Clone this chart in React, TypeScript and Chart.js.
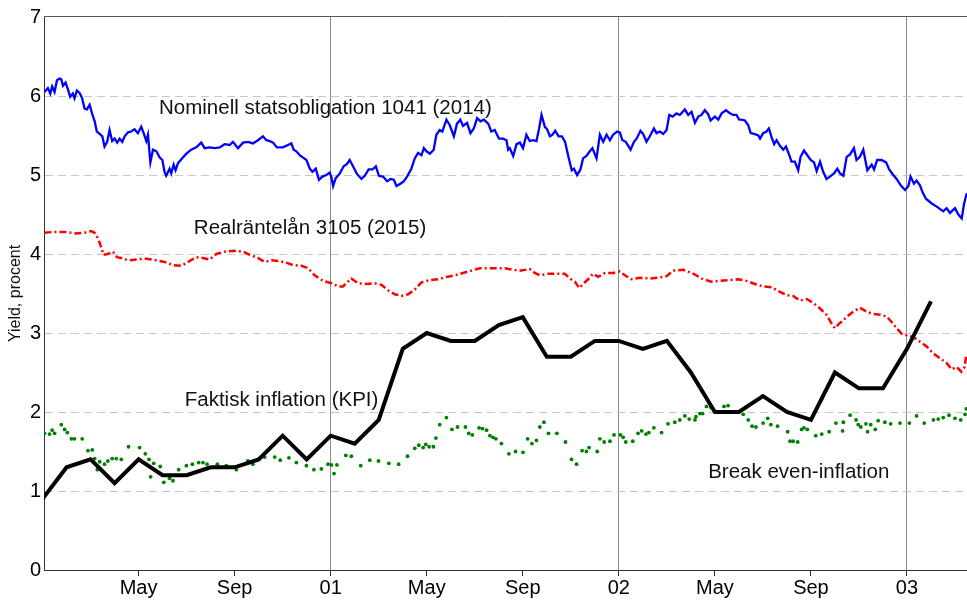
import React, { useEffect, useRef } from "react";
import { Chart, registerables } from "chart.js";

Chart.register(...registerables);

// x values are months since 1 Jan 2000
const xTickMonths = [4, 8, 12, 16, 20, 24, 28, 32, 36];
const xTickLabels = ["May", "Sep", "01", "May", "Sep", "02", "May", "Sep", "03"];
const yMin = 0;
const yMax = 7;

// Faktisk inflation (KPI), monthly from Jan 2000
const kpi: number[] = [
  0.9, 1.3, 1.4, 1.1, 1.4, 1.2, 1.2, 1.3, 1.3, 1.4, 1.7, 1.4,
  1.7, 1.6, 1.9, 2.8, 3.0, 2.9, 2.9, 3.1, 3.2, 2.7, 2.7, 2.9,
  2.9, 2.8, 2.9, 2.5, 2.0, 2.0, 2.2, 2.0, 1.9, 2.5, 2.3, 2.3,
  2.8, 3.4,
];

// Nominell statsobligation 1041 (2014): [month, yield]
const nominal: [number, number][] = [
  [0.08, 6.05], [0.22, 6.1], [0.32, 6.03], [0.4, 6.12], [0.5, 6.05], [0.6, 6.2], [0.71, 6.22], [0.78, 6.21],
  [0.85, 6.13], [0.96, 6.17], [1.06, 6.08], [1.15, 5.99], [1.26, 6.03], [1.33, 5.97], [1.43, 6.07], [1.54, 6.04],
  [1.65, 5.97], [1.75, 5.84], [1.85, 5.83], [1.96, 5.89], [2.06, 5.78], [2.17, 5.68], [2.26, 5.55], [2.38, 5.52],
  [2.49, 5.49], [2.58, 5.36], [2.69, 5.42], [2.79, 5.57], [2.9, 5.43], [3.0, 5.46], [3.11, 5.41], [3.21, 5.46],
  [3.32, 5.42], [3.42, 5.49], [3.56, 5.54], [3.69, 5.55], [3.83, 5.58], [3.97, 5.53], [4.11, 5.61], [4.21, 5.53],
  [4.32, 5.43], [4.39, 5.51], [4.49, 5.16], [4.6, 5.32], [4.74, 5.3], [4.88, 5.22], [4.99, 5.19], [5.08, 5.04],
  [5.15, 4.99], [5.29, 5.08], [5.36, 5.02], [5.46, 5.13], [5.54, 5.06], [5.64, 5.15], [5.78, 5.2], [5.99, 5.27],
  [6.19, 5.32], [6.4, 5.35], [6.61, 5.41], [6.75, 5.34], [6.96, 5.35], [7.17, 5.34], [7.38, 5.35], [7.58, 5.39],
  [7.79, 5.38], [7.93, 5.42], [8.14, 5.34], [8.35, 5.41], [8.56, 5.42], [8.76, 5.4], [8.97, 5.44], [9.18, 5.49],
  [9.32, 5.44], [9.46, 5.43], [9.6, 5.41], [9.76, 5.35],
  [9.81, 5.35], [10.01, 5.35], [10.22, 5.38], [10.36, 5.4], [10.46, 5.32], [10.57, 5.3], [10.71, 5.25], [10.85, 5.22],
  [10.99, 5.19], [11.13, 5.08], [11.24, 5.04], [11.38, 5.08], [11.51, 4.94], [11.65, 4.98], [11.82, 5.0], [11.96, 5.03],
  [12.03, 4.97], [12.1, 4.86], [12.21, 4.96], [12.38, 5.02], [12.54, 5.11], [12.68, 5.14], [12.79, 5.19], [12.93, 5.11],
  [13.1, 5.01], [13.28, 4.95], [13.42, 4.99], [13.58, 5.07], [13.74, 5.07], [13.88, 5.11], [14.01, 4.99], [14.18, 4.98],
  [14.35, 4.92], [14.49, 4.95], [14.63, 4.94], [14.74, 4.86], [14.9, 4.89], [15.04, 4.92], [15.18, 4.98], [15.36, 5.08],
  [15.5, 5.21], [15.64, 5.28], [15.78, 5.25], [15.88, 5.34], [15.99, 5.3], [16.13, 5.27], [16.29, 5.32], [16.4, 5.51],
  [16.54, 5.57], [16.65, 5.55], [16.82, 5.7], [16.96, 5.63], [17.13, 5.49], [17.26, 5.65], [17.4, 5.7], [17.51, 5.62],
  [17.68, 5.66], [17.82, 5.53], [17.96, 5.59], [18.1, 5.72], [18.24, 5.68], [18.38, 5.7], [18.56, 5.65], [18.69, 5.55],
  [18.83, 5.57], [19.01, 5.46], [19.18, 5.46], [19.32, 5.44], [19.39, 5.32], [19.46, 5.34],
  [19.6, 5.24], [19.74, 5.39], [19.88, 5.41], [20.01, 5.34], [20.15, 5.51], [20.29, 5.43], [20.43, 5.44], [20.57, 5.43],
  [20.68, 5.59], [20.78, 5.76], [20.92, 5.61], [21.01, 5.58], [21.13, 5.49], [21.24, 5.51], [21.35, 5.56], [21.49, 5.49],
  [21.63, 5.49], [21.76, 5.42], [21.9, 5.23], [22.04, 5.06], [22.13, 5.08], [22.26, 5.0], [22.4, 5.07], [22.51, 5.21],
  [22.65, 5.24], [22.79, 5.3], [22.9, 5.34], [23.07, 5.21], [23.21, 5.51], [23.35, 5.42], [23.49, 5.51], [23.63, 5.44],
  [23.76, 5.51], [23.93, 5.55], [24.04, 5.54], [24.15, 5.44], [24.29, 5.42], [24.49, 5.32], [24.63, 5.42], [24.74, 5.46],
  [24.9, 5.56], [25.01, 5.52], [25.15, 5.42], [25.29, 5.49], [25.46, 5.59], [25.57, 5.53], [25.71, 5.55], [25.85, 5.52],
  [25.99, 5.57], [26.1, 5.76], [26.24, 5.74], [26.4, 5.78], [26.54, 5.76], [26.75, 5.83], [26.89, 5.76], [27.03, 5.8],
  [27.17, 5.66], [27.31, 5.74], [27.44, 5.76], [27.58, 5.82], [27.72, 5.77], [27.82, 5.69], [28.0, 5.74], [28.14, 5.7],
  [28.28, 5.78], [28.46, 5.82], [28.63, 5.78], [28.76, 5.76], [28.9, 5.76], [29.01, 5.7],
  [29.11, 5.7], [29.25, 5.69], [29.39, 5.63], [29.49, 5.53], [29.63, 5.52], [29.81, 5.5], [29.88, 5.46], [30.01, 5.53],
  [30.15, 5.55], [30.25, 5.59], [30.36, 5.48], [30.47, 5.39], [30.57, 5.44], [30.71, 5.37], [30.85, 5.32], [30.96, 5.36],
  [31.1, 5.25], [31.19, 5.17], [31.33, 5.17], [31.47, 5.06], [31.57, 5.23], [31.71, 5.31], [31.85, 5.25], [31.99, 5.19],
  [32.13, 5.16], [32.24, 5.05], [32.38, 5.17], [32.51, 5.04], [32.65, 4.95], [32.79, 4.98], [32.96, 5.02], [33.1, 5.08],
  [33.21, 5.02], [33.35, 4.99], [33.49, 5.23], [33.63, 5.26], [33.79, 5.34], [33.9, 5.19], [34.04, 5.23], [34.18, 5.32],
  [34.35, 5.06], [34.53, 5.13], [34.63, 5.07], [34.76, 5.19], [34.94, 5.19], [35.13, 5.16], [35.26, 5.07], [35.43, 5.0],
  [35.57, 4.95], [35.74, 4.87], [35.92, 4.81], [36.06, 4.86], [36.15, 4.98], [36.29, 4.89], [36.4, 4.93], [36.54, 4.87],
  [36.65, 4.78], [36.79, 4.7], [37.03, 4.64], [37.24, 4.6], [37.51, 4.54], [37.65, 4.58], [37.79, 4.52], [38.0, 4.58],
  [38.14, 4.5], [38.28, 4.45], [38.38, 4.64], [38.49, 4.77],
];

// Realräntelån 3105 (2015): [month, yield]
const realYield: [number, number][] = [
  [0.08, 4.27], [0.5, 4.28], [0.92, 4.28], [1.4, 4.26], [1.75, 4.27], [2.03, 4.29], [2.21, 4.26], [2.38, 4.14],
  [2.54, 3.99], [2.72, 4.0], [2.93, 4.03], [3.1, 3.96], [3.28, 3.95], [3.56, 3.92], [3.9, 3.93], [4.32, 3.94],
  [4.74, 3.92], [5.08, 3.9], [5.43, 3.86], [5.78, 3.85], [6.06, 3.9], [6.4, 3.96], [6.68, 3.95], [6.96, 3.93],
  [7.24, 4.0], [7.58, 4.03], [8.0, 4.04], [8.35, 4.03], [8.63, 3.99], [8.97, 3.95], [9.25, 3.9], [9.53, 3.92],
  [9.88, 3.91], [10.15, 3.89], [10.43, 3.86], [10.78, 3.85], [11.06, 3.82], [11.33, 3.73], [11.68, 3.66], [12.03, 3.63],
  [12.31, 3.59], [12.51, 3.59], [12.86, 3.69], [13.14, 3.63], [13.49, 3.62], [13.83, 3.63], [14.11, 3.61], [14.39, 3.54],
  [14.67, 3.49], [14.94, 3.47], [15.22, 3.49], [15.5, 3.55], [15.78, 3.64], [16.13, 3.67], [16.47, 3.68], [16.82, 3.71],
  [17.17, 3.73], [17.51, 3.76], [17.86, 3.79], [18.21, 3.82], [18.56, 3.82], [18.9, 3.82], [19.25, 3.82], [19.6, 3.8],
  [19.94, 3.79], [20.29, 3.81], [20.5, 3.76], [20.71, 3.73], [21.06, 3.75], [21.4, 3.75], [21.75, 3.75], [21.96, 3.69],
  [22.17, 3.65], [22.35, 3.57], [22.51, 3.62], [22.72, 3.68], [22.93, 3.75], [23.14, 3.71], [23.42, 3.76], [23.76, 3.76],
  [24.04, 3.78], [24.25, 3.73], [24.53, 3.68], [24.88, 3.7], [25.29, 3.69], [25.64, 3.7], [25.99, 3.72], [26.26, 3.79],
  [26.68, 3.8], [27.1, 3.75], [27.51, 3.68], [27.86, 3.65], [28.21, 3.66], [28.63, 3.67], [28.97, 3.68], [29.32, 3.66],
  [29.67, 3.62], [30.01, 3.59], [30.36, 3.58], [30.71, 3.52], [30.99, 3.48], [31.26, 3.47], [31.54, 3.41], [31.82, 3.43],
  [32.1, 3.38], [32.38, 3.31], [32.65, 3.23], [32.86, 3.12], [33.0, 3.06], [33.18, 3.12], [33.35, 3.16], [33.51, 3.21],
  [33.76, 3.27], [34.04, 3.32], [34.32, 3.27], [34.6, 3.24], [34.88, 3.23], [35.15, 3.21], [35.36, 3.14], [35.57, 3.06],
  [35.78, 2.99], [35.99, 2.97], [36.26, 2.95], [36.54, 2.89], [36.82, 2.83], [37.1, 2.74], [37.38, 2.68], [37.65, 2.62],
  [37.86, 2.54], [38.07, 2.57], [38.26, 2.51], [38.4, 2.57], [38.47, 2.72],
];

// Break even-inflation: [month, value]
const breakEven: [number, number][] = [
  [0.08, 1.73], [0.29, 1.72], [0.4, 1.77], [0.5, 1.73], [0.78, 1.84], [0.92, 1.78], [1.03, 1.74], [1.2, 1.66],
  [1.33, 1.66], [1.65, 1.66], [1.89, 1.51], [2.07, 1.52], [2.17, 1.41], [2.28, 1.27], [2.38, 1.37], [2.58, 1.34],
  [2.72, 1.38], [2.9, 1.41], [3.07, 1.41], [3.28, 1.4], [3.58, 1.56], [4.04, 1.55], [4.28, 1.47], [4.43, 1.4],
  [4.5, 1.18], [4.63, 1.35], [4.9, 1.31], [5.05, 1.11], [5.29, 1.16], [5.43, 1.13], [5.67, 1.27], [5.99, 1.32],
  [6.24, 1.34], [6.5, 1.36], [6.68, 1.36], [6.85, 1.34], [7.28, 1.34], [7.65, 1.32], [8.07, 1.27], [8.55, 1.38],
  [8.76, 1.34], [9.25, 1.43], [9.67, 1.43], [9.9, 1.39], [10.26, 1.42], [10.57, 1.36], [10.99, 1.32], [11.3, 1.27],
  [11.61, 1.28], [11.89, 1.34], [12.03, 1.33], [12.14, 1.22], [12.26, 1.33], [12.63, 1.45], [12.86, 1.44], [13.25, 1.32],
  [13.63, 1.39], [13.99, 1.38], [14.42, 1.35], [14.83, 1.34], [15.2, 1.44], [15.5, 1.54], [15.67, 1.58], [15.85, 1.55],
  [15.96, 1.59], [16.1, 1.56], [16.28, 1.56], [16.38, 1.67], [16.54, 1.84], [16.82, 1.93], [17.05, 1.78], [17.28, 1.81],
  [17.61, 1.81], [17.75, 1.73], [17.9, 1.71], [18.18, 1.8], [18.32, 1.79], [18.49, 1.77], [18.63, 1.7], [18.76, 1.68],
  [18.88, 1.66], [19.11, 1.6], [19.42, 1.47], [19.7, 1.5], [20.01, 1.49], [20.2, 1.66], [20.38, 1.6], [20.57, 1.64],
  [20.71, 1.81], [20.88, 1.87], [21.07, 1.73], [21.42, 1.73], [21.78, 1.62], [22.03, 1.4], [22.24, 1.34], [22.47, 1.51],
  [22.65, 1.5], [22.76, 1.55], [23.1, 1.5], [23.21, 1.66], [23.39, 1.62], [23.63, 1.63], [23.8, 1.71], [24.07, 1.71],
  [24.18, 1.68], [24.29, 1.62], [24.58, 1.63], [24.8, 1.73], [24.95, 1.76], [25.13, 1.72], [25.25, 1.74], [25.46, 1.8],
  [25.78, 1.74], [26.05, 1.85], [26.33, 1.87], [26.54, 1.9], [26.75, 1.95], [26.93, 1.91], [27.17, 1.9], [27.21, 1.94],
  [27.38, 1.98], [27.49, 1.98], [27.65, 2.07], [27.83, 2.06], [28.38, 2.07], [28.55, 2.08], [29.18, 1.97], [29.39, 1.9],
  [29.55, 1.82], [29.71, 1.81], [30.01, 1.86], [30.2, 1.92], [30.33, 1.84], [30.61, 1.82], [31.03, 1.75], [31.13, 1.63],
  [31.26, 1.63], [31.45, 1.62], [31.61, 1.78], [31.71, 1.8], [31.85, 1.78], [32.2, 1.7], [32.45, 1.72], [32.76, 1.75],
  [33.04, 1.86], [33.32, 1.76], [33.35, 1.87], [33.63, 1.96], [33.88, 1.9], [33.97, 1.84], [34.08, 1.81], [34.29, 1.85],
  [34.36, 1.75], [34.49, 1.84], [34.68, 1.78], [34.8, 1.89], [35.08, 1.87], [35.32, 1.85], [35.71, 1.86], [36.1, 1.86],
  [36.4, 1.95], [36.72, 1.86], [37.1, 1.9], [37.3, 1.91], [37.51, 1.93], [37.75, 1.96], [38.0, 1.92], [38.24, 1.9],
  [38.42, 1.97], [38.47, 2.04],
];

// In-chart labels, anchored at [month, value]
const seriesLabels = [
  { text: "Nominell statsobligation 1041 (2014)", month: 4.85, value: 5.84 },
  { text: "Realräntelån 3105 (2015)", month: 6.3, value: 4.33 },
  { text: "Faktisk inflation (KPI)", month: 5.92, value: 2.15 },
  { text: "Break even-inflation", month: 27.72, value: 1.24 },
];
const yTitle = "Yield, procent";

const FONT = '"Liberation Sans", Arial, Helvetica, sans-serif';

const overlayPlugin = {
  id: "overlay",
  afterDraw(chart: any) {
    const { ctx, chartArea, scales } = chart;
    ctx.save();
    ctx.strokeStyle = "#555555";
    ctx.lineWidth = 1;
    ctx.setLineDash([]);
    ctx.beginPath();
    const ty = Math.floor(chartArea.top) - 0.5;
    ctx.moveTo(chartArea.left, ty);
    ctx.lineTo(chartArea.right, ty);
    ctx.stroke();

    ctx.fillStyle = "#111111";
    ctx.font = `20.5px ${FONT}`;
    ctx.textBaseline = "middle";
    ctx.textAlign = "left";
    for (const l of seriesLabels) {
      ctx.fillText(l.text, scales.x.getPixelForValue(l.month), scales.y.getPixelForValue(l.value));
    }

    ctx.font = `16px ${FONT}`;
    ctx.textAlign = "center";
    ctx.translate(16, (chartArea.top + chartArea.bottom) / 2);
    ctx.rotate(-Math.PI / 2);
    ctx.fillText(yTitle, 0, 0);
    ctx.restore();
  },
};

export default function App() {
  const ref = useRef<HTMLCanvasElement>(null);
  useEffect(() => {
    document.body.style.margin = "0";
    Chart.defaults.font.family = FONT;
    const chart = new Chart(ref.current as HTMLCanvasElement, {
      type: "line",
      data: {
        datasets: [
          {
            label: "Faktisk inflation (KPI)",
            data: kpi.map((v, i) => ({ x: i, y: v })),
            borderColor: "#000000",
            borderWidth: 4,
            pointRadius: 0,
            pointHoverRadius: 0,
            borderJoinStyle: "miter",
            fill: false,
          },
          {
            label: "Nominell statsobligation 1041 (2014)",
            data: nominal.map(([x, y]) => ({ x, y })),
            borderColor: "#0000ff",
            borderWidth: 2.3,
            pointRadius: 0,
            pointHoverRadius: 0,
            fill: false,
          },
          {
            label: "Realräntelån 3105 (2015)",
            data: realYield.map(([x, y]) => ({ x, y })),
            borderColor: "#ff0000",
            borderWidth: 2.5,
            borderDash: [7, 3, 2, 3],
            pointRadius: 0,
            pointHoverRadius: 0,
            fill: false,
          },
          {
            label: "Break even-inflation",
            data: breakEven.map(([x, y]) => ({ x, y })),
            showLine: false,
            borderColor: "#008000",
            backgroundColor: "#008000",
            pointBackgroundColor: "#008000",
            pointBorderWidth: 0,
            pointRadius: 1.9,
            pointHoverRadius: 1.9,
          },
        ],
      },
      options: {
        animation: false,
        responsive: false,
        events: [],
        layout: { autoPadding: false, padding: { top: 17, left: 0, right: 0, bottom: 0 } },
        plugins: { legend: { display: false }, tooltip: { enabled: false } },
        scales: {
          x: {
            type: "linear",
            min: 0.06,
            max: 38.5,
            afterBuildTicks: (scale: any) => {
              scale.ticks = xTickMonths.map((v) => ({ value: v }));
            },
            afterFit: (scale: any) => {
              scale.height = 31;
            },
            ticks: {
              autoSkip: false,
              maxRotation: 0,
              minRotation: 0,
              padding: 0,
              color: "#000000",
              font: { size: 20, family: FONT },
              callback: (_v: any, i: number) => xTickLabels[i],
            },
            grid: {
              color: (c: any) => (c.tick && c.tick.value % 12 === 0 ? "#8c8c8c" : "rgba(0,0,0,0)"),
              tickColor: "#333333",
              tickLength: 6,
              lineWidth: 1,
              drawTicks: true,
            },
            border: { display: true, color: "#333333", width: 1 },
          },
          y: {
            min: yMin,
            max: yMax,
            afterFit: (scale: any) => {
              scale.width = 44;
            },
            ticks: {
              stepSize: 1,
              padding: 3,
              color: "#000000",
              font: { size: 20, family: FONT },
            },
            grid: {
              color: (c: any) => (c.tick && c.tick.value > yMin && c.tick.value < yMax ? "#c8c8c8" : "rgba(0,0,0,0)"),
              drawTicks: false,
              lineWidth: 1,
            },
            border: { display: true, color: "#333333", width: 1, dash: [8, 5] },
          },
        },
      },
      plugins: [overlayPlugin],
    } as any);
    return () => chart.destroy();
  }, []);
  return (
    <div style={{ width: 967, height: 601, position: "relative" }}>
      <canvas ref={ref} width={967} height={601} style={{ display: "block" }} />
    </div>
  );
}
